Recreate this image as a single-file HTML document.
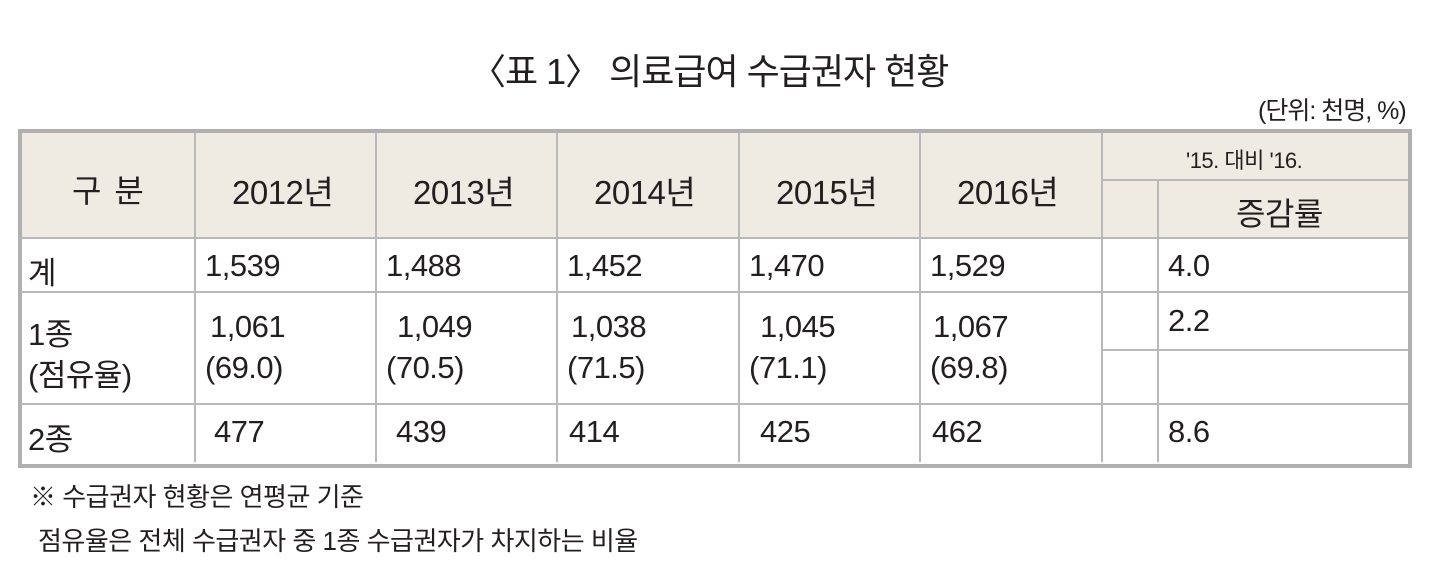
<!DOCTYPE html>
<html><head><meta charset="utf-8"><style>
body{margin:0;width:1440px;height:564px;background:#fff;position:relative;overflow:hidden;font-family:"Liberation Sans","Noto Sans CJK KR",sans-serif;color:#231f20}
.a{position:absolute;white-space:nowrap}
.h{position:absolute;background:#b9b9b9}
.t{font-size:31px;letter-spacing:-0.5px}
</style></head><body>
<div class="a" style="left:470px;top:43px;font-size:36px;letter-spacing:-1px">〈표 1〉 의료급여 수급권자 현황</div>
<div class="a" style="left:1258px;top:91px;font-size:25px;letter-spacing:-1px">(단위: 천명, %)</div>
<div class="a" style="left:20px;top:132px;width:1388px;height:106px;background:#efebe3"></div>
<div class="a" style="left:18px;top:129px;width:1386px;height:331px;border:4px solid #b0b0b0"></div>
<div class="h" style="left:20px;top:237px;width:1388px;height:2px"></div>
<div class="h" style="left:20px;top:291px;width:1388px;height:2px"></div>
<div class="h" style="left:20px;top:403px;width:1388px;height:2px"></div>
<div class="h" style="left:1102px;top:179px;width:306px;height:2px"></div>
<div class="h" style="left:1102px;top:349px;width:306px;height:2px"></div>
<div class="h" style="left:194px;top:132px;width:2px;height:330px"></div>
<div class="h" style="left:375px;top:132px;width:2px;height:330px"></div>
<div class="h" style="left:556px;top:132px;width:2px;height:330px"></div>
<div class="h" style="left:738px;top:132px;width:2px;height:330px"></div>
<div class="h" style="left:919px;top:132px;width:2px;height:330px"></div>
<div class="h" style="left:1101px;top:132px;width:2px;height:330px"></div>
<div class="h" style="left:1157px;top:180px;width:2px;height:282px"></div>
<div class="a" style="left:72px;top:166px;font-size:32px;letter-spacing:2px">구 분</div>
<div class="a t" style="left:232px;top:166px;font-size:33px">2012년</div>
<div class="a t" style="left:413px;top:166px;font-size:33px">2013년</div>
<div class="a t" style="left:594px;top:166px;font-size:33px">2014년</div>
<div class="a t" style="left:776px;top:166px;font-size:33px">2015년</div>
<div class="a t" style="left:957px;top:166px;font-size:33px">2016년</div>
<div class="a" style="left:1186px;top:143px;font-size:22px;letter-spacing:-0.5px">'15. 대비 '16.</div>
<div class="a t" style="left:1236px;top:189px;font-size:32px">증감률</div>
<div class="a t" style="left:28px;top:248px">계</div>
<div class="a t" style="left:205px;top:248px">1,539</div>
<div class="a t" style="left:386px;top:248px">1,488</div>
<div class="a t" style="left:567px;top:248px">1,452</div>
<div class="a t" style="left:749px;top:248px">1,470</div>
<div class="a t" style="left:930px;top:248px">1,529</div>
<div class="a t" style="left:1168px;top:248px">4.0</div>
<div class="a t" style="left:28px;top:309px">1종</div>
<div class="a t" style="left:28px;top:350px">(점유율)</div>
<div class="a t" style="left:210px;top:309px">1,061</div>
<div class="a t" style="left:205px;top:350px">(69.0)</div>
<div class="a t" style="left:397px;top:309px">1,049</div>
<div class="a t" style="left:386px;top:350px">(70.5)</div>
<div class="a t" style="left:571px;top:309px">1,038</div>
<div class="a t" style="left:567px;top:350px">(71.5)</div>
<div class="a t" style="left:760px;top:309px">1,045</div>
<div class="a t" style="left:749px;top:350px">(71.1)</div>
<div class="a t" style="left:933px;top:309px">1,067</div>
<div class="a t" style="left:930px;top:350px">(69.8)</div>
<div class="a t" style="left:1168px;top:303px">2.2</div>
<div class="a t" style="left:28px;top:414px">2종</div>
<div class="a t" style="left:214px;top:414px">477</div>
<div class="a t" style="left:396px;top:414px">439</div>
<div class="a t" style="left:569px;top:414px">414</div>
<div class="a t" style="left:760px;top:414px">425</div>
<div class="a t" style="left:932px;top:414px">462</div>
<div class="a t" style="left:1168px;top:414px">8.6</div>
<div class="a" style="left:30px;top:477px;font-size:26px;letter-spacing:-0.5px">※ 수급권자 현황은 연평균 기준</div>
<div class="a" style="left:38px;top:521px;font-size:26px;letter-spacing:-0.5px">점유율은 전체 수급권자 중 1종 수급권자가 차지하는 비율</div>
</body></html>
